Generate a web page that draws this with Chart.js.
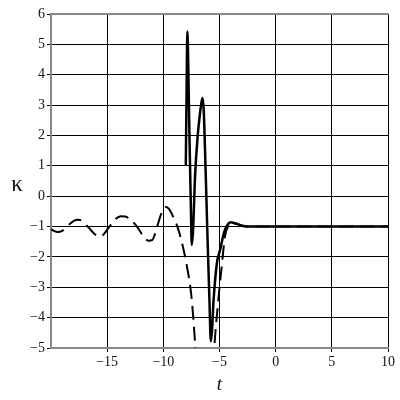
<!DOCTYPE html>
<html>
<head>
<meta charset="utf-8">
<script src="https://cdn.jsdelivr.net/npm/chart.js@4"></script>
<style>
  html, body { margin: 0; padding: 0; background: #fff; }
  #wrap { width: 400px; height: 400px; }
</style>
</head>
<body>
<div id="wrap"><canvas id="kappaChart"></canvas></div>
<script>
// dashed curve
const tDashed = [-20, -19.7, -19.4, -19.0, -18.5, -18.0, -17.6, -17.2, -16.8, -16.3, -15.9, -15.6, -15.3, -14.8, -14.3, -13.8, -13.4, -12.9, -12.4, -11.8, -11.3, -11.0, -10.7, -10.3, -10.0, -9.8, -9.5, -9.1, -8.7, -8.3, -7.9, -7.5, -7.2, -6.9, -6.3, -5.7, -5.45, -5.1, -4.8, -4.5, -4.2, -3.9, -3.5, -3.0, -2.5, -2, 0, 5, 10];
const kDashed = [-1.08, -1.15, -1.18, -1.14, -0.97, -0.82, -0.78, -0.82, -0.97, -1.18, -1.31, -1.33, -1.25, -1.0, -0.77, -0.66, -0.67, -0.78, -0.98, -1.3, -1.47, -1.45, -1.2, -0.7, -0.43, -0.36, -0.42, -0.7, -1.05, -1.6, -2.31, -3.3, -4.7, -6.5, -8.0, -6.5, -4.9, -3.4, -2.3, -1.3, -0.97, -0.88, -0.9, -0.97, -1.0, -1.0, -1.0, -1.0, -1.0];

// solid curve
const tSolid = [-8.0, -7.93, -7.86, -7.78, -7.68, -7.55, -7.47, -7.35, -7.17, -6.95, -6.79, -6.6, -6.5, -6.4, -6.28, -6.07, -5.89, -5.77, -5.66, -5.54, -5.23, -4.94, -4.6, -4.3, -4.0, -3.6, -3.0, -2.5, 0, 5, 10];
const kSolid = [1.0, 3.5, 5.42, 4.3, 2.08, -0.34, -1.6, -1.1, 0.7, 1.95, 2.55, 3.1, 3.23, 2.8, 1.42, -1.33, -3.5, -4.78, -4.4, -3.5, -2.2, -1.76, -1.2, -0.95, -0.86, -0.9, -0.97, -1.0, -1.0, -1.0, -1.0];

const xTicks = [-15, -10, -5, 0, 5, 10];
const serif = '"Liberation Serif", "Times New Roman", serif';

function pts(xs, ys) {
  return xs.map((x, i) => ({ x: x, y: ys[i] }));
}

function minus(v) {
  return String(v).replace('-', '\u2212');
}

// top frame line + horizontal kappa label
const decor = {
  id: 'decor',
  afterDraw(chart) {
    const c = chart.ctx;
    const a = chart.chartArea;
    c.save();
    c.strokeStyle = '#888';
    c.lineWidth = 2;
    c.beginPath();
    c.moveTo(a.left, a.top);
    c.lineTo(a.right + 1, a.top);
    c.stroke();
    c.fillStyle = '#111';
    c.font = '23px ' + serif;
    c.textAlign = 'center';
    c.textBaseline = 'middle';
    c.fillText('\u03BA', 17, 185);
    c.restore();
  }
};

const config = {
  type: 'line',
  data: {
    datasets: [
      {
        label: 'dashed',
        data: pts(tDashed, kDashed),
        borderColor: '#000',
        borderWidth: 2,
        borderDash: [14, 7],
        pointRadius: 0,
        cubicInterpolationMode: 'monotone',
        fill: false,
      },
      {
        label: 'solid',
        data: pts(tSolid, kSolid),
        borderColor: '#000',
        borderWidth: 2.5,
        pointRadius: 0,
        cubicInterpolationMode: 'monotone',
        fill: false,
      },
    ],
  },
  options: {
    responsive: true,
    maintainAspectRatio: false,
    animation: false,
    layout: { padding: { left: 0, right: 12, top: 14, bottom: 4 } },
    plugins: {
      legend: { display: false },
      tooltip: { enabled: false },
    },
    scales: {
      x: {
        type: 'linear',
        min: -20,
        max: 10,
        afterFit: (s) => { s.height = 48; },
        afterBuildTicks: (s) => { s.ticks = xTicks.map((v) => ({ value: v })); },
        grid: { color: '#000', lineWidth: 1, tickLength: 4 },
        border: { color: '#888', width: 2 },
        ticks: {
          color: '#111',
          padding: 2,
          maxRotation: 0,
          font: { family: serif, size: 14 },
          callback: (v) => minus(v),
        },
        title: {
          display: true,
          text: 't',
          color: '#111',
          padding: 0,
          font: { family: serif, size: 19, style: 'italic' },
        },
      },
      y: {
        min: -5,
        max: 6,
        afterFit: (s) => { s.width = 51; },
        grid: { color: '#000', lineWidth: 1, tickLength: 4 },
        border: { color: '#888', width: 2 },
        ticks: {
          stepSize: 1,
          color: '#111',
          padding: 2,
          font: { family: serif, size: 14 },
          callback: (v) => minus(v),
        },
      },
    },
  },
  plugins: [decor],
};

const kappaChart = new Chart(document.getElementById('kappaChart').getContext('2d'), config);
</script>
</body>
</html>
